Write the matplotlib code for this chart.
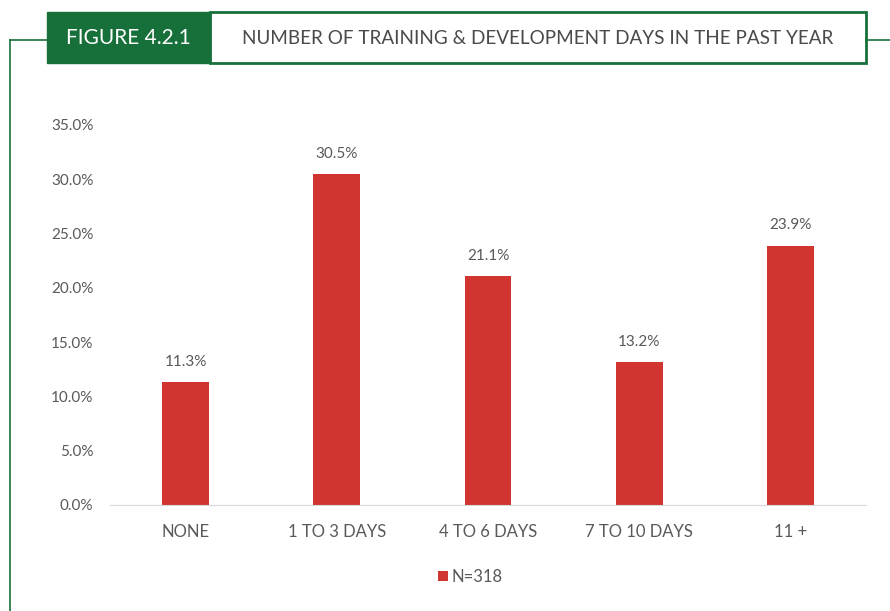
import matplotlib.pyplot as plt
from matplotlib.patches import Rectangle
from matplotlib.lines import Line2D

# data
categories = ['NONE', '1 TO 3 DAYS', '4 TO 6 DAYS', '7 TO 10 DAYS', '11 +']
values = [11.3, 30.5, 21.1, 13.2, 23.9]
series_name = 'N=318'

green = '#17703A'
red = '#D0352F'
grey = '#595959'

plt.rcParams['font.family'] = ['Lato', 'DejaVu Sans']

fig = plt.figure(figsize=(8.9, 6.11), dpi=100)

# header frame (pixel coords -> figure fraction)
W, H = 890, 611
def fx(x): return x / W
def fy(y): return 1 - y / H

fig.add_artist(Line2D([fx(10), fx(47)], [fy(40), fy(40)], color=green, lw=1.2))
fig.add_artist(Line2D([fx(866), fx(890)], [fy(40), fy(40)], color=green, lw=1.2))
fig.add_artist(Line2D([fx(10), fx(10)], [fy(40), fy(611)], color=green, lw=1.2))
fig.add_artist(Rectangle((fx(210), fy(63)), fx(866 - 210), (63 - 12) / H,
                         facecolor='white', edgecolor=green, lw=2))
fig.add_artist(Rectangle((fx(47), fy(63)), fx(210 - 47), (63 - 12) / H,
                         facecolor=green, edgecolor=green, lw=1))
fig.text(fx(128), fy(38), 'FIGURE 4.2.1', color='white', fontsize=15,
         ha='center', va='center')
fig.text(fx(538), fy(38), 'NUMBER OF TRAINING & DEVELOPMENT DAYS IN THE PAST YEAR',
         color='#4a4a4a', fontsize=13.6, ha='center', va='center')

ax = fig.add_axes([fx(110), fy(505), fx(866 - 110), (505 - 125) / H])
x = range(len(categories))
bars = ax.bar(x, values, width=0.31, color=red, label=series_name)
for b, v in zip(bars, values):
    ax.text(b.get_x() + b.get_width() / 2, v + 1.2, f'{v:.1f}%',
            ha='center', va='bottom', fontsize=11, color=grey)

ax.set_xlim(-0.5, len(categories) - 0.5)
ax.set_ylim(0, 35)
ax.set_yticks(range(0, 36, 5))
ax.set_yticklabels([f'{t:.1f}%' for t in range(0, 36, 5)])
ax.set_xticks(list(x))
ax.set_xticklabels(categories)
ax.tick_params(axis='both', length=0, colors=grey, labelsize=11)
ax.tick_params(axis='x', pad=14, labelsize=12)
ax.tick_params(axis='y', pad=12)
for s in ['top', 'right', 'left']:
    ax.spines[s].set_visible(False)
ax.spines['bottom'].set_color('#D9D9D9')

fig.legend(loc='center', bbox_to_anchor=(fx(470), fy(577)), frameon=False,
           handlelength=0.6, handleheight=0.6, handletextpad=0.2,
           fontsize=12, labelcolor=grey)

fig.savefig('out.png', dpi=100)
